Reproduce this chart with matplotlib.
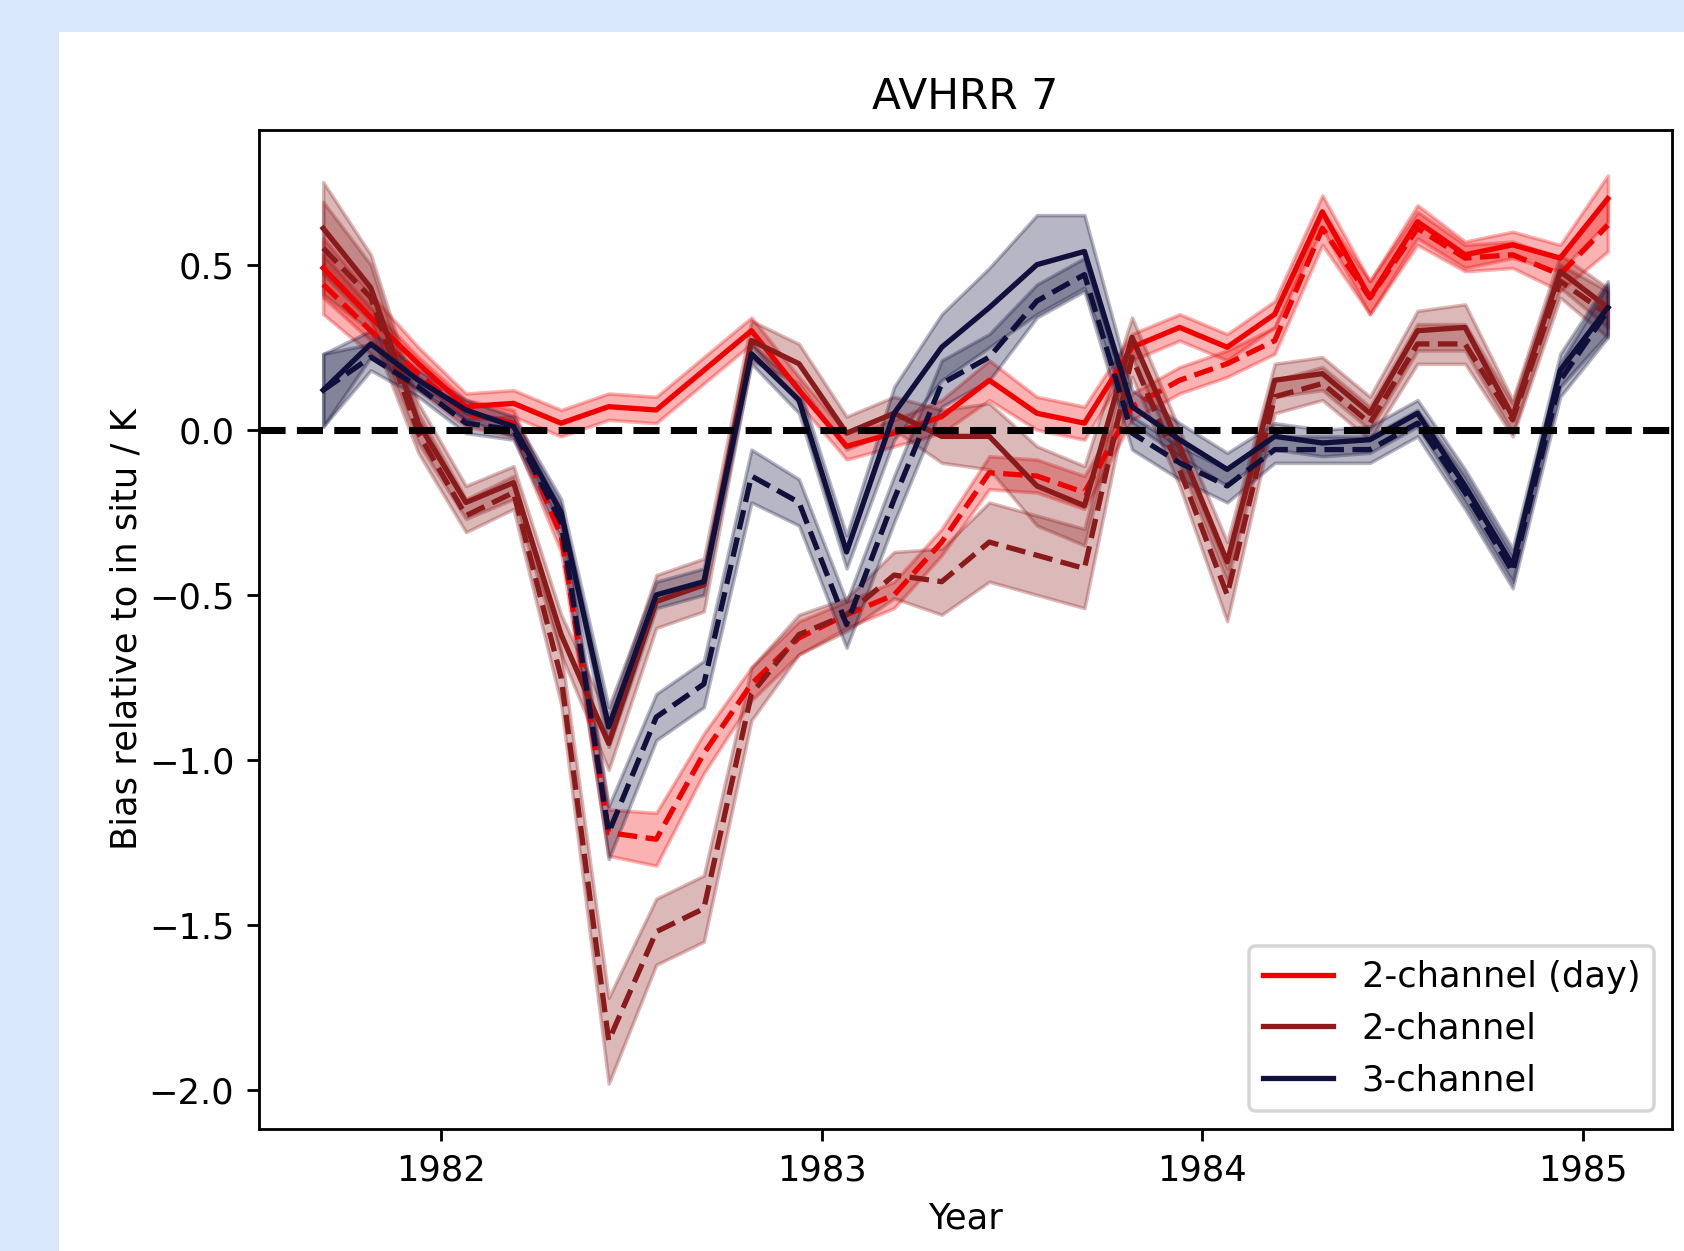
import matplotlib
matplotlib.use("Agg")
import matplotlib.pyplot as plt
from matplotlib.patches import Rectangle
from matplotlib.lines import Line2D
import numpy as np

# ---------------- data ----------------
years = [1981.690, 1981.815, 1981.940, 1982.065, 1982.190, 1982.315, 1982.440,
         1982.565, 1982.690, 1982.815, 1982.940, 1983.065, 1983.190, 1983.315,
         1983.440, 1983.565, 1983.690, 1983.815, 1983.940, 1984.065, 1984.190,
         1984.315, 1984.440, 1984.565, 1984.690, 1984.815, 1984.940, 1985.065]

# 2-channel (day)
day_solid = [0.49, 0.34, 0.20, 0.07, 0.08, 0.02, 0.07, 0.06, 0.18, 0.30, 0.12, -0.05, -0.01, 0.04,
             0.15, 0.05, 0.02, 0.25, 0.31, 0.25, 0.35, 0.66, 0.40, 0.63, 0.53, 0.56, 0.52, 0.70]
day_solid_err = [0.09, 0.07, 0.05, 0.04, 0.04, 0.04, 0.04, 0.04, 0.04, 0.04, 0.04, 0.04, 0.04, 0.05,
                 0.06, 0.05, 0.05, 0.04, 0.04, 0.04, 0.04, 0.05, 0.05, 0.05, 0.04, 0.04, 0.04, 0.07]
day_dash = [0.44, 0.30, 0.17, 0.05, 0.02, -0.32, -1.22, -1.24, -0.98, -0.77, -0.63, -0.56, -0.50, -0.34,
            -0.13, -0.14, -0.19, 0.07, 0.15, 0.20, 0.27, 0.61, 0.40, 0.61, 0.52, 0.53, 0.47, 0.62]
day_dash_err = [0.09, 0.07, 0.05, 0.04, 0.04, 0.05, 0.07, 0.08, 0.06, 0.05, 0.05, 0.04, 0.04, 0.04,
                0.05, 0.05, 0.05, 0.04, 0.04, 0.04, 0.04, 0.05, 0.05, 0.05, 0.04, 0.04, 0.05, 0.08]

# 2-channel
two_solid = [0.61, 0.43, 0.02, -0.22, -0.16, -0.62, -0.95, -0.52, -0.47, 0.27, 0.20, -0.01, 0.05, -0.02,
             -0.02, -0.17, -0.23, 0.28, -0.05, -0.40, 0.15, 0.17, 0.05, 0.30, 0.31, 0.04, 0.48, 0.37]
two_solid_err = [0.14, 0.10, 0.06, 0.05, 0.05, 0.06, 0.08, 0.08, 0.08, 0.06, 0.06, 0.05, 0.05, 0.08,
                 0.10, 0.12, 0.12, 0.06, 0.05, 0.06, 0.05, 0.05, 0.05, 0.06, 0.07, 0.05, 0.05, 0.06]
two_dash = [0.55, 0.40, -0.01, -0.26, -0.19, -0.75, -1.85, -1.52, -1.45, -0.80, -0.62, -0.56, -0.44, -0.46,
            -0.34, -0.38, -0.42, 0.22, -0.12, -0.50, 0.10, 0.14, 0.02, 0.26, 0.26, 0.03, 0.45, 0.35]
two_dash_err = [0.14, 0.10, 0.06, 0.05, 0.05, 0.08, 0.13, 0.10, 0.10, 0.08, 0.06, 0.05, 0.07, 0.10,
                0.12, 0.12, 0.12, 0.06, 0.05, 0.08, 0.05, 0.05, 0.05, 0.06, 0.06, 0.05, 0.05, 0.07]

# 3-channel
three_solid = [0.12, 0.26, 0.15, 0.06, 0.01, -0.25, -0.90, -0.50, -0.46, 0.23, 0.09, -0.37, 0.05, 0.25,
               0.37, 0.50, 0.54, 0.07, -0.03, -0.12, -0.02, -0.04, -0.03, 0.05, -0.17, -0.41, 0.18, 0.37]
three_solid_err = [0.11, 0.04, 0.03, 0.03, 0.03, 0.04, 0.06, 0.04, 0.04, 0.03, 0.04, 0.05, 0.08, 0.10,
                   0.12, 0.15, 0.11, 0.05, 0.05, 0.05, 0.04, 0.04, 0.04, 0.04, 0.05, 0.05, 0.05, 0.08]
three_dash = [0.12, 0.22, 0.13, 0.02, 0.00, -0.28, -1.22, -0.87, -0.77, -0.14, -0.22, -0.59, -0.21, 0.14,
              0.22, 0.39, 0.47, -0.01, -0.10, -0.17, -0.06, -0.06, -0.06, 0.02, -0.19, -0.43, 0.15, 0.36]
three_dash_err = [0.11, 0.04, 0.03, 0.03, 0.03, 0.05, 0.08, 0.07, 0.07, 0.08, 0.07, 0.07, 0.07, 0.07,
                  0.07, 0.05, 0.05, 0.05, 0.05, 0.05, 0.04, 0.04, 0.04, 0.04, 0.05, 0.05, 0.05, 0.08]

labels = ["2-channel (day)", "2-channel", "3-channel"]
xticks = [1982, 1983, 1984, 1985]
yticks = [0.5, 0.0, -0.5, -1.0, -1.5, -2.0]

# ---------------- style ----------------
S = 2.54
plt.rcParams.update({
    "font.family": "DejaVu Sans",
    "font.size": 10 * S,
    "axes.linewidth": 0.8 * S,
    "xtick.major.width": 0.8 * S,
    "ytick.major.width": 0.8 * S,
    "xtick.major.size": 3.5 * S,
    "ytick.major.size": 3.5 * S,
    "xtick.major.pad": 3.5 * S,
    "ytick.major.pad": 3.5 * S,
    "lines.linewidth": 1.5 * S,
    "legend.fontsize": 10 * S,
    "axes.titlesize": 12 * S,
    "axes.labelsize": 10 * S,
    "patch.linewidth": 1.0 * S,
})

fig = plt.figure(figsize=(16.84, 12.51), dpi=100, facecolor="#dae8fc")
fig.patches.append(Rectangle((59 / 1684, 0), 1 - 59 / 1684, 1 - 32 / 1251,
                             transform=fig.transFigure, facecolor="white",
                             edgecolor="none", zorder=-1))
ax = fig.add_axes([0.1538, 0.0975, 0.9929 - 0.1538, 0.896 - 0.0975])

x = np.array(years)
colors = ["#f00000", "#8b1a1a", "#10103c"]
series = [
    (day_solid, day_solid_err, day_dash, day_dash_err),
    (two_solid, two_solid_err, two_dash, two_dash_err),
    (three_solid, three_solid_err, three_dash, three_dash_err),
]

for (sv, se, dv, de), c in zip(series, colors):
    sv, se, dv, de = map(np.array, (sv, se, dv, de))
    ax.fill_between(x, sv - se, sv + se, color=c, alpha=0.3)
    ax.plot(x, sv, color=c, ls="-")
    ax.fill_between(x, dv - de, dv + de, color=c, alpha=0.3)
    ax.plot(x, dv, color=c, ls="--")

ax.axhline(0, color="k", ls="--", lw=2 * S)

ax.set_xticks(xticks)
ax.set_xticklabels([str(t) for t in xticks])
ax.set_yticks(yticks)
ax.set_title("AVHRR 7", pad=6 * S)
ax.set_xlabel("Year", labelpad=4 * S)
ax.set_ylabel("Bias relative to in situ / K")

handles = [Line2D([0], [0], color=c, lw=1.5 * S) for c in colors]
ax.legend(handles, labels, loc="lower right", framealpha=0.8)

fig.savefig("out.png", dpi=100, facecolor=fig.get_facecolor())
